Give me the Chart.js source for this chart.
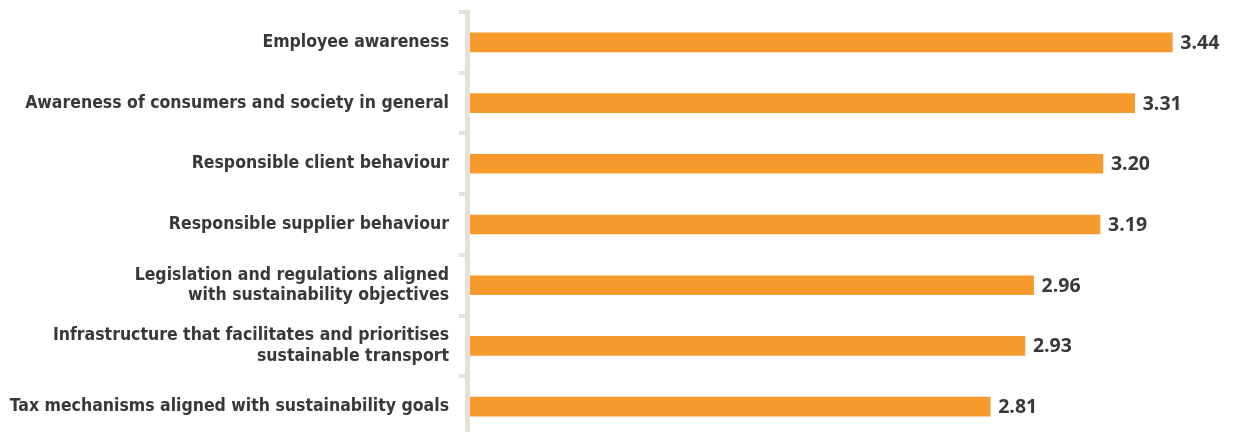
<!DOCTYPE html>
<html>
<head>
<meta charset="utf-8">
<script src="https://cdn.jsdelivr.net/npm/chart.js"></script>
<style>
  html, body { margin: 0; padding: 0; background: #fff; overflow: hidden; }
  #wrap { width: 1233px; height: 440px; }
</style>
</head>
<body>
<div id="wrap"><canvas id="barChart" width="1233" height="440"></canvas></div>
<script>
const categories = [
  'Employee awareness',
  'Awareness of consumers and society in general',
  'Responsible client behaviour',
  'Responsible supplier behaviour',
  ['Legislation and regulations aligned', 'with sustainability objectives'],
  ['Infrastructure that facilitates and prioritises', 'sustainable transport'],
  'Tax mechanisms aligned with sustainability goals'
];
const scores = [3.44, 3.31, 3.20, 3.19, 2.96, 2.93, 2.81];

const textColor = '#383838';
const axisColor = '#e5e0d8';

// score printed at the end of each bar
const valueLabels = {
  id: 'valueLabels',
  afterDatasetsDraw(chart) {
    const ctx = chart.ctx;
    const meta = chart.getDatasetMeta(0);
    ctx.save();
    ctx.font = 'bold 19.5px "Open Sans"';
    ctx.fillStyle = textColor;
    ctx.textBaseline = 'middle';
    ctx.textAlign = 'left';
    meta.data.forEach((bar, i) => {
      ctx.fillText(scores[i].toFixed(2), bar.x + 8, bar.y + 1);
    });
    ctx.restore();
  }
};

new Chart(document.getElementById('barChart'), {
  type: 'bar',
  data: {
    labels: categories,
    datasets: [{
      data: scores,
      backgroundColor: '#f79a2c',
      borderWidth: 0,
      barThickness: 19
    }]
  },
  options: {
    indexAxis: 'y',
    responsive: false,
    animation: false,
    layout: { padding: { top: 12, bottom: 3, left: 0, right: 0 } },
    plugins: {
      legend: { display: false },
      tooltip: { enabled: false }
    },
    scales: {
      x: {
        display: false,
        min: 1,
        max: 3.65
      },
      y: {
        afterFit(scale) {
          scale.width = 467;
          scale.paddingTop = 0;
          scale.paddingBottom = 0;
        },
        grid: {
          drawOnChartArea: false,
          color: axisColor,
          lineWidth: 4,
          tickLength: 8,
          offset: true
        },
        border: { color: axisColor, width: 5, z: 1 },
        ticks: {
          color: textColor,
          padding: 10,
          autoSkip: false,
          font: { family: '"DejaVu Sans Condensed", sans-serif', weight: 'bold', size: 17.5, lineHeight: 1.15 }
        }
      }
    }
  },
  plugins: [valueLabels]
});
</script>
</body>
</html>
